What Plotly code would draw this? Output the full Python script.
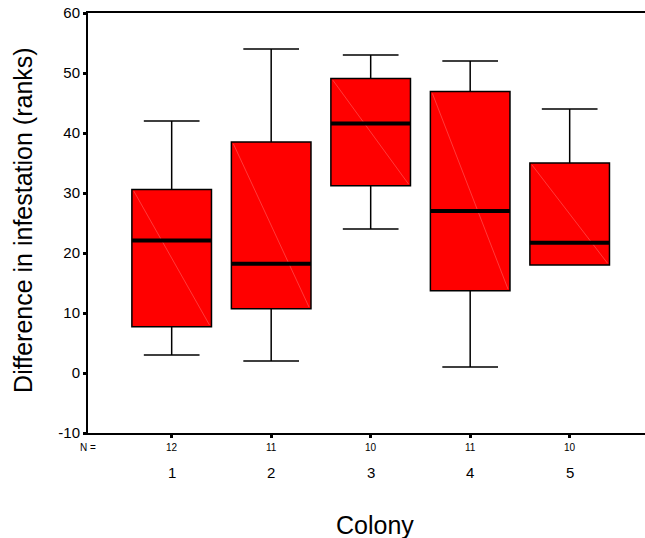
import plotly.graph_objects as go

colonies = [1, 2, 3, 4, 5]
colony_labels = ["1", "2", "3", "4", "5"]
n_counts = ["12", "11", "10", "11", "10"]
lower_whisker = [3, 2, 24, 1, 18]
q1 = [7.7, 10.7, 31.2, 13.7, 18]
median = [22.1, 18.2, 41.6, 27.0, 21.7]
q3 = [30.6, 38.5, 49.1, 46.9, 35.0]
upper_whisker = [42, 54, 53, 52, 44]
y_ticks = [-10, 0, 10, 20, 30, 40, 50, 60]
y_tick_labels = ["-10", "0", "10", "20", "30", "40", "50", "60"]

FONT = "Arial, Liberation Sans, sans-serif"
BOX_W = 0.8

fig = go.Figure()
fig.add_trace(go.Box(
    x=colonies, q1=q1, median=median, q3=q3,
    lowerfence=lower_whisker, upperfence=upper_whisker,
    width=BOX_W, whiskerwidth=0.7,
    fillcolor="#FF0000", line=dict(color="black", width=1.5),
    boxpoints=False, hoverinfo="skip", showlegend=False,
))

# faint diagonal artefacts and thick median lines
for i, c in enumerate(colonies):
    fig.add_trace(go.Scatter(
        x=[c - BOX_W / 2 + 0.02, c + BOX_W / 2 - 0.02], y=[q3[i] - 0.3, q1[i] + 0.3],
        mode="lines", line=dict(color="rgba(255,140,140,0.7)", width=0.6),
        hoverinfo="skip", showlegend=False))
    fig.add_trace(go.Scatter(
        x=[c - BOX_W / 2, c + BOX_W / 2], y=[median[i], median[i]],
        mode="lines", line=dict(color="black", width=4),
        hoverinfo="skip", showlegend=False))

# N counts and category labels
fig.add_annotation(x=0, y=-0.0345, xref="paper", yref="paper", text="N =",
                   showarrow=False, xanchor="left", yanchor="middle", xshift=-10,
                   font=dict(family=FONT, size=10, color="black"))
for i, c in enumerate(colonies):
    fig.add_annotation(x=c, y=-0.0345, xref="x", yref="paper", text=n_counts[i],
                       showarrow=False, yanchor="middle",
                       font=dict(family=FONT, size=10, color="black"))
    fig.add_annotation(x=c, y=-0.0929, xref="x", yref="paper", text=colony_labels[i],
                       showarrow=False, yanchor="middle",
                       font=dict(family=FONT, size=15, color="black"))

fig.add_annotation(x=((336 + 413) / 2 - 88) / 557, y=-0.218, xref="paper", yref="paper",
                   text="Colony", showarrow=False, yanchor="middle", xanchor="center",
                   font=dict(family=FONT, size=25, color="black"))
fig.add_annotation(x=-0.117, y=0.507, xref="paper", yref="paper",
                   text="Difference in infestation (ranks)", textangle=-90,
                   showarrow=False, yanchor="middle", xanchor="center",
                   font=dict(family=FONT, size=25, color="black"))

fig.update_layout(
    width=645, height=538,
    margin=dict(l=88, r=0, t=13, b=105),
    plot_bgcolor="white", paper_bgcolor="white",
    font=dict(family=FONT, color="black"),
    xaxis=dict(range=[0.159, 5.757], showgrid=False, zeroline=False,
               showline=True, linecolor="black", linewidth=2, mirror=True,
               tickvals=colonies, showticklabels=False,
               ticks="outside", ticklen=3, tickwidth=3, tickcolor="black"),
    yaxis=dict(range=[-10, 60], showgrid=False, zeroline=False,
               showline=True, linecolor="black", linewidth=2,
               tickvals=y_ticks, ticktext=y_tick_labels,
               ticks="outside", ticklen=3, tickwidth=3,
               tickcolor="black", tickfont=dict(family=FONT, size=15),
               ticklabeloverflow="allow"),
)

fig.write_html(
    "out.html",
    config={"displayModeBar": False},
    post_script=(
        "document.body.style.margin='0';"
        "document.body.style.overflow='hidden';"
        "document.documentElement.style.overflow='hidden';"
    ),
)
